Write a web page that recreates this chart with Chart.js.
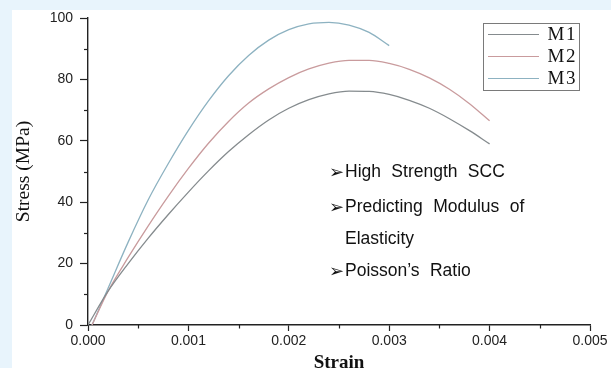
<!DOCTYPE html>
<html>
<head>
<meta charset="utf-8">
<script src="https://cdn.jsdelivr.net/npm/chart.js@4.4.1/dist/chart.umd.min.js"></script>
<style>
  html, body { margin: 0; padding: 0; background: #e8f4fc; }
  #wrap { position: absolute; left: 12px; top: 10px; width: 599px; height: 358px; background: #fff; }
</style>
</head>
<body>
<div id="wrap"><canvas id="stressChart" width="599" height="358"></canvas></div>
<script>
// Stress-strain curves for the three mixes.
const strainM1 = [0, 0.0002, 0.0004, 0.0006, 0.0008, 0.001, 0.0012, 0.0014, 0.0016, 0.0018, 0.002,
    0.0022, 0.0024, 0.0026, 0.0028, 0.003, 0.0032, 0.0034, 0.0036, 0.0038, 0.004];
const stressM1 = [0, 11, 20, 28.3, 36, 43.3, 50.2, 56.5, 62, 66.8, 70.6,
    73.4, 75.3, 76.2, 76.1, 75.1, 73.2, 70.6, 67.2, 63.3, 59];

const strainM2 = [0.00004, 0.0002, 0.0004, 0.0006, 0.0008, 0.001, 0.0012, 0.0014, 0.0016, 0.0018, 0.002,
    0.0022, 0.0024, 0.0026, 0.0028, 0.003, 0.0032, 0.0034, 0.0036, 0.0038, 0.004];
const stressM2 = [0, 11, 22, 32.3, 42, 51, 59.2, 66.3, 72.3, 76.9, 80.6,
    83.4, 85.3, 86.2, 86.2, 85.2, 83.3, 80.5, 76.8, 72.1, 66.5];

const strainM3 = [0.00004, 0.0002, 0.0004, 0.0006, 0.0008, 0.001, 0.0012, 0.0014, 0.0016, 0.0018, 0.002,
    0.0022, 0.0024, 0.0026, 0.0028, 0.003];
const stressM3 = [0, 12, 27, 40.8, 52.6, 63.4, 73, 81.2, 87.8, 92.8, 96.2,
    98.1, 98.6, 97.7, 95.3, 91];

const seriesLabels = ['M1', 'M2', 'M3'];
const seriesColors = ['#858b8e', '#c99b9d', '#8db2c1'];

const xTicks = [0, 0.001, 0.002, 0.003, 0.004, 0.005];
const yTicks = [0, 20, 40, 60, 80, 100];

const noteLines = [
    { bullet: true, text: 'High Strength SCC' },
    { bullet: true, text: 'Predicting Modulus of' },
    { bullet: false, text: 'Elasticity' },
    { bullet: true, text: 'Poisson\u2019s Ratio' },
];

function toPoints(xs, ys) {
    return xs.map((x, i) => ({ x, y: ys[i] }));
}

function buildDataset(idx, xs, ys) {
    return {
        label: seriesLabels[idx],
        data: toPoints(xs, ys),
        borderColor: seriesColors[idx],
        borderWidth: 1.3,
        pointRadius: 0,
        cubicInterpolationMode: 'monotone',
        fill: false,
    };
}

// minor ticks are shorter than major ones, so draw them by hand
const minorTicks = {
    id: 'minorTicks',
    afterDraw(chart) {
        const { ctx, scales: { x, y } } = chart;
        ctx.save();
        ctx.strokeStyle = '#222';
        ctx.lineWidth = 1.2;
        for (let v = 0.0005; v < 0.005; v += 0.001) {
            const px = Math.round(x.getPixelForValue(v)) + 0.5;
            ctx.beginPath();
            ctx.moveTo(px, y.bottom);
            ctx.lineTo(px, y.bottom + 3.5);
            ctx.stroke();
        }
        for (let v = 10; v < 100; v += 20) {
            const py = Math.round(y.getPixelForValue(v)) + 0.5;
            ctx.beginPath();
            ctx.moveTo(x.left, py);
            ctx.lineTo(x.left - 4, py);
            ctx.stroke();
        }
        ctx.restore();
    },
};

const boxLegend = {
    id: 'boxLegend',
    afterDraw(chart) {
        const ctx = chart.ctx;
        const left = 471, top = 13, w = 96, h = 67;
        ctx.save();
        ctx.strokeStyle = '#7a7a7a';
        ctx.lineWidth = 1;
        ctx.strokeRect(left + 0.5, top + 0.5, w, h);
        ctx.font = '19px "Liberation Serif", "Times New Roman", serif';
        ctx.letterSpacing = '1.5px';
        ctx.textAlign = 'right';
        ctx.textBaseline = 'middle';
        chart.data.datasets.forEach((ds, i) => {
            const ly = top + 11.5 + i * 22;
            ctx.strokeStyle = ds.borderColor;
            ctx.lineWidth = 1.2;
            ctx.beginPath();
            ctx.moveTo(left + 5, ly);
            ctx.lineTo(left + 56, ly);
            ctx.stroke();
            ctx.fillStyle = '#111';
            ctx.fillText(ds.label, left + w - 2, ly + 1);
        });
        ctx.restore();
    },
};

const notes = {
    id: 'notes',
    afterDraw(chart) {
        const ctx = chart.ctx;
        const rows = [162, 197, 229, 261];
        ctx.save();
        ctx.fillStyle = '#111';
        ctx.textBaseline = 'middle';
        noteLines.forEach((line, i) => {
            if (line.bullet) {
                ctx.font = 'bold 18px "DejaVu Sans", sans-serif';
                ctx.fillText('\u27A2', 317, rows[i] + 1);
            }
            ctx.font = '17.5px "Liberation Sans", Arial, sans-serif';
            ctx.wordSpacing = '5.5px';
            ctx.fillText(line.text, 333, rows[i]);
            ctx.wordSpacing = '0px';
        });
        ctx.restore();
    },
};

const tickFont = { family: '"Liberation Sans", Arial, sans-serif', size: 14 };

new Chart(document.getElementById('stressChart'), {
    type: 'line',
    data: {
        datasets: [
            buildDataset(0, strainM1, stressM1),
            buildDataset(1, strainM2, stressM2),
            buildDataset(2, strainM3, stressM3),
        ],
    },
    options: {
        responsive: false,
        animation: false,
        layout: { padding: { left: 0, top: 8, right: 21, bottom: 0 } },
        plugins: { legend: { display: false }, tooltip: { enabled: false } },
        scales: {
            x: {
                type: 'linear',
                min: 0,
                max: 0.005,
                afterBuildTicks: (scale) => { scale.ticks = xTicks.map((v) => ({ value: v })); },
                afterFit: (scale) => {
                    scale.height = 43;
                    scale.paddingLeft = 0;
                    scale.paddingRight = 0;
                },
                grid: { drawOnChartArea: false, drawTicks: true, tickLength: 6, color: '#222', tickWidth: 1.2 },
                border: { display: true, color: '#222', width: 1.4 },
                ticks: {
                    color: '#222',
                    font: tickFont,
                    padding: 2,
                    maxRotation: 0,
                    callback: (v) => v.toFixed(3),
                },
                title: {
                    display: true,
                    text: 'Strain',
                    color: '#111',
                    font: { family: '"Liberation Serif", "Times New Roman", serif', size: 19, weight: 'bold' },
                    padding: { top: -6, bottom: -6 },
                },
            },
            y: {
                min: 0,
                max: 100,
                afterBuildTicks: (scale) => { scale.ticks = yTicks.map((v) => ({ value: v })); },
                afterFit: (scale) => {
                    scale.width = 76;
                    scale.paddingTop = 0;
                    scale.paddingBottom = 0;
                },
                grid: { drawOnChartArea: false, drawTicks: true, tickLength: 8, color: '#222', tickWidth: 1.2 },
                border: { display: true, color: '#222', width: 1.4 },
                ticks: { color: '#222', font: tickFont, padding: 7 },
                title: {
                    display: true,
                    text: 'Stress (MPa)',
                    color: '#111',
                    font: { family: '"Liberation Serif", "Times New Roman", serif', size: 19.5 },
                    padding: { top: 0, bottom: 0 },
                },
            },
        },
    },
    plugins: [minorTicks, boxLegend, notes],
});
</script>
</body>
</html>
